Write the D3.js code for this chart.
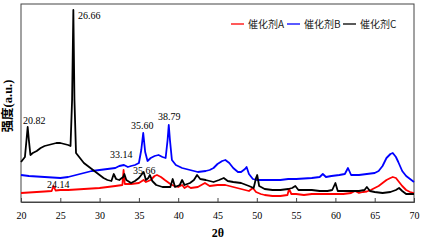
<!DOCTYPE html>
<html><head><meta charset="utf-8">
<script src="https://cdn.jsdelivr.net/npm/d3@7"></script>
<style>
html,body{margin:0;padding:0;background:#fff;}
svg{display:block;}
</style></head>
<body>
<svg id="chart" width="422" height="241"></svg>
<script>
// ---- data (2θ, intensity a.u.) ----
const seriesNames = ["催化剂A", "催化剂B", "催化剂C"];
const seriesColors = ["#ff0000", "#0000ff", "#000000"];
const xTicks = [20, 25, 30, 35, 40, 45, 50, 55, 60, 65, 70];

const seriesA = [
  [20,9],[21,9.5],[22,10],[23,10.5],[23.9,11],[24.14,16],[24.4,11.5],[25,12],[26,12],[27,12.5],
  [28,13],[29,13.5],[30,14],[31,15],[32,16],[32.9,17],[33.05,32],[33.2,18],[34,18],[35,19],
  [35.6,22],[35.9,20],[36.5,22],[37,26],[37.3,27],[37.8,25],[38.3,22],[39,18],[39.5,16],[40,15],
  [40.5,17],[40.8,14],[41.2,16],[41.6,14],[42.5,15],[43.4,19],[44,16],[45,17],[46,17],[47,15],
  [48,13],[49,11],[49.5,14],[49.9,10],[50.5,8],[51,7],[52,6],[53,6],[53.9,7],[54.1,13],
  [54.4,8],[55,8],[56,7],[57,8],[58,8],[59,8],[60,8],[61,8],[62,9],[62.5,11],
  [63,9],[63.5,10],[64,10.5],[64.5,12],[65,14],[65.5,16],[66,19],[66.5,22],[67,24],[67.3,25],
  [67.7,24],[68,21],[68.5,16],[69,12],[69.5,10],[70,9]
];
const seriesB = [
  [20,27],[21,26],[22,25.5],[23,25],[24,24.5],[25,24],[26,25],[27,27],[28,29],[29,31],
  [30,32],[31,33],[32,34],[32.5,36],[33.1,37],[33.6,35],[34,36],[34.5,37],[35,39],[35.3,52],
  [35.55,69],[35.8,50],[36.1,41],[36.5,44],[37,46],[37.5,47],[38,45],[38.4,44],[38.65,62],[38.8,77],
  [38.95,62],[39.2,42],[39.7,37],[40.5,34],[41.5,32],[42.5,30],[43.5,31],[44,32],[44.5,34],[45,38],
  [45.6,41],[46,42],[46.5,39],[47,34],[47.6,30],[48,30],[48.5,33],[48.7,35],[49,28],[49.5,23],
  [50,22],[51,22],[52,22],[53,22],[54,23],[55,23],[56,23.5],[57,24],[58,25],[58.4,28],
  [58.8,25],[59.5,26],[60.5,27],[61.2,28],[61.6,34],[62,27],[63,27],[64,28],[65,29],[65.5,31],
  [66,36],[66.5,44],[67,48],[67.3,49],[67.7,45],[68,40],[68.5,31],[69,26],[69.5,23],[70,20]
];
const seriesC = [
  [20,40],[20.5,45],[20.7,62],[20.85,75],[21.0,62],[21.2,47],[21.5,49],[22,51],[22.5,54],[23,56],
  [23.5,57],[24,58],[24.5,59],[25,59],[25.5,58],[26,57],[26.3,56],[26.5,102],[26.66,192],[26.8,102],
  [27,49],[27.5,44],[28,39],[28.5,36],[29,33],[29.5,30],[30,27],[30.5,24],[31,22],[31.5,21],
  [31.8,28],[32.1,23],[32.5,22],[33,25],[33.15,28],[33.4,22],[34,19],[34.5,21],[35,24],[35.6,30],
  [35.9,22],[36.2,24],[36.4,27],[36.7,21],[37.2,17],[38,15],[39,15],[39.3,23],[39.6,15],[40.2,17],
  [40.5,22],[40.8,17],[41.5,19],[42,22],[42.4,27],[42.8,23],[43.5,22],[44.5,20],[45.2,22],[45.8,24],
  [46.3,21],[47,20],[48,19],[49,16],[49.6,14],[49.9,24],[50.05,27],[50.3,16],[51,13],[52,12],
  [53,12],[54,13],[54.5,14],[54.9,16],[55.3,12],[56,12],[57,12],[58,11],[59,11],[59.6,12],
  [60,19],[60.3,11],[61,11],[62,11],[63,11],[63.7,12],[64,15],[64.4,11],[65,10],[66,9],
  [67,10],[67.7,12],[68.1,14],[68.5,11],[69,8],[70,8]
];
const peakLabels = [
  {text:"26.66", x:27.25, y:183},
  {text:"20.82", x:20.25, y:78},
  {text:"35.60", x:34.0,  y:73},
  {text:"38.79", x:37.43, y:82},
  {text:"33.14", x:31.32, y:44},
  {text:"35.66", x:34.25, y:28},
  {text:"24.14", x:23.31, y:14}
];

// ---- drawing ----
const svg = d3.select("#chart");
const x = d3.scaleLinear().domain([20, 70]).range([21, 414]);
const y = d3.scaleLinear().domain([0, 198]).range([202, 4]);
const serif = "'Times New Roman','Liberation Serif','Noto Sans CJK SC',serif";

// frame
svg.append("rect").attr("x", 21).attr("y", 4).attr("width", 393).attr("height", 198)
  .attr("fill", "none").attr("stroke", "#444").attr("stroke-width", 1);

const line = d3.line().x(d => x(d[0])).y(d => y(d[1]));
[seriesA, seriesB, seriesC].forEach((s, i) => {
  svg.append("path").datum(s).attr("d", line)
    .attr("fill", "none").attr("stroke", seriesColors[i])
    .attr("stroke-width", 1.8).attr("stroke-linejoin", "round");
});

// x axis
const xAxis = d3.axisBottom(x).tickValues(xTicks).tickSize(-4).tickPadding(10);
const gx = svg.append("g").attr("transform", "translate(0,202)").call(xAxis);
gx.select(".domain").attr("stroke", "#444");
gx.selectAll(".tick line").attr("stroke", "#444");
gx.selectAll(".tick text").attr("font-family", serif).attr("font-size", 10).attr("fill", "#000");

// peak labels
svg.append("g").selectAll("text").data(peakLabels).join("text")
  .attr("x", d => x(d.x)).attr("y", d => y(d.y))
  .attr("font-family", serif).attr("font-size", 10).attr("fill", "#000")
  .text(d => d.text);

// axis titles
svg.append("text").attr("x", 218).attr("y", 237).attr("text-anchor", "middle")
  .attr("font-family", serif).attr("font-weight", "bold").attr("font-size", 12).text("2θ");
svg.append("text").attr("transform", "translate(12,106) rotate(-90)").attr("text-anchor", "middle")
  .attr("font-family", serif).attr("font-weight", "bold").attr("font-size", 12.5).text("强度(a.u.)");

// legend
const lg = svg.append("g");
seriesNames.forEach((n, i) => {
  const x0 = 231 + i * 56;
  lg.append("line").attr("x1", x0).attr("x2", x0 + 13).attr("y1", 24).attr("y2", 24)
    .attr("stroke", seriesColors[i]).attr("stroke-width", 1.3);
  lg.append("text").attr("x", x0 + 17).attr("y", 27.5)
    .attr("font-family", "'Noto Sans CJK SC','Noto Sans',sans-serif").attr("font-size", 10)
    .attr("fill", "#222").text(n);
});
</script>
</body></html>
